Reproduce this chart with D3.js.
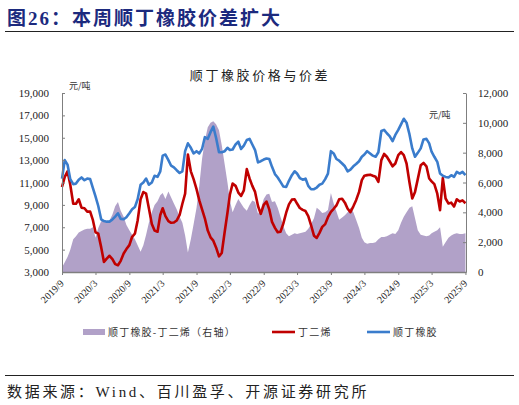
<!DOCTYPE html>
<html>
<head>
<meta charset="utf-8">
<script src="https://cdn.jsdelivr.net/npm/d3@7"></script>
<style>
  body { margin: 0; background: #fff; }
  svg { display: block; }
</style>
</head>
<body>
<svg id="chart" width="519" height="405"></svg>
<script>
// semi-monthly observation dates
let dates = [
  "2019-09-01","2019-09-16","2019-10-01","2019-10-16","2019-11-01","2019-11-16","2019-12-01","2019-12-16",
  "2020-01-01","2020-01-16","2020-02-01","2020-02-16","2020-03-01","2020-03-16","2020-04-01","2020-04-16","2020-05-01","2020-05-16","2020-06-01","2020-06-16","2020-07-01","2020-07-16","2020-08-01","2020-08-16","2020-09-01","2020-09-16","2020-10-01","2020-10-16","2020-11-01","2020-11-16","2020-12-01","2020-12-16",
  "2021-01-01","2021-01-16","2021-02-01","2021-02-16","2021-03-01","2021-03-16","2021-04-01","2021-04-16","2021-05-01","2021-05-16","2021-06-01","2021-06-16","2021-07-01","2021-07-16","2021-08-01","2021-08-16","2021-09-01","2021-09-16","2021-10-01","2021-10-16","2021-11-01","2021-11-16","2021-12-01","2021-12-16",
  "2022-01-01","2022-01-16","2022-02-01","2022-02-16","2022-03-01","2022-03-16","2022-04-01","2022-04-16","2022-05-01","2022-05-16","2022-06-01","2022-06-16","2022-07-01","2022-07-16","2022-08-01","2022-08-16","2022-09-01","2022-09-16","2022-10-01","2022-10-16","2022-11-01","2022-11-16","2022-12-01","2022-12-16",
  "2023-01-01","2023-01-16","2023-02-01","2023-02-16","2023-03-01","2023-03-16","2023-04-01","2023-04-16","2023-05-01","2023-05-16","2023-06-01","2023-06-16","2023-07-01","2023-07-16","2023-08-01","2023-08-16","2023-09-01","2023-09-16","2023-10-01","2023-10-16","2023-11-01","2023-11-16","2023-12-01","2023-12-16",
  "2024-01-01","2024-01-16","2024-02-01","2024-02-16","2024-03-01","2024-03-16","2024-04-01","2024-04-16","2024-05-01","2024-05-16","2024-06-01","2024-06-16","2024-07-01","2024-07-16","2024-08-01","2024-08-16","2024-09-01","2024-09-16","2024-10-01","2024-10-16","2024-11-01","2024-11-16","2024-12-01","2024-12-16",
  "2025-01-01","2025-01-16","2025-02-01","2025-02-16","2025-03-01","2025-03-16","2025-04-01","2025-04-16","2025-05-01","2025-05-16","2025-06-01","2025-06-16","2025-07-01","2025-07-16","2025-08-01","2025-08-16","2025-09-01"
];

// 顺丁橡胶 price, yuan/ton (left axis)
let brPrice = [
  11350,13000,12600,11300,10850,10900,11250,11450,11200,11350,11300,10500,
  9750,8900,7700,7550,7500,7500,7700,7950,8250,7750,7720,7900,
  8250,8600,8800,9500,10800,11000,11350,10800,11000,11600,11500,12000,
  13400,13500,13000,12500,12350,12100,11850,12000,13800,14500,14100,13600,
  13800,13600,14000,15050,14900,15500,16000,15000,13700,13700,13800,14100,
  13900,13950,14400,14650,14000,14300,14800,14900,14400,13900,12800,12900,
  13050,13150,13100,12400,11750,11450,11050,10650,10600,11150,11650,12000,
  11800,11400,11250,11350,10700,10400,10400,10550,10800,10900,11300,11800,
  13800,13600,13100,12950,12700,12450,12000,12150,12450,12650,12900,13300,
  13500,13800,13600,13400,13300,13700,15600,15700,15400,15150,14700,15250,
  15700,16200,16700,16350,15300,14050,13300,13650,14050,14850,14900,14500,
  13750,13300,12850,11800,11600,11500,11450,11650,11500,11950,11800,11950,
  11650
];

// 丁二烯 price, yuan/ton (left axis)
let bdPrice = [
  10600,11500,12000,10800,9100,9100,9500,8750,8700,8400,8400,7630,
  6550,6430,5200,3900,4200,4450,4150,3700,3600,4000,4650,5050,
  5400,6150,6420,7600,9500,10150,10000,8700,7300,6700,6600,8100,
  8700,8000,7550,7400,7420,7600,8100,9100,10000,13500,12000,11300,
  10400,9400,8600,7800,6700,6100,5800,5200,4400,4700,6600,8300,
  9900,10900,10700,10100,9800,10300,12200,11360,10700,10160,8900,8200,
  9000,9300,8600,7480,6950,6550,6600,7300,8300,9050,9470,9500,
  9120,8720,8550,8450,8000,7200,6250,6050,6500,7030,7280,7900,
  8380,8650,8950,9500,9550,9200,8650,8350,8870,9420,10160,11210,
  11610,11660,11700,11600,11510,11060,13000,13550,13300,12900,12450,12700,
  13450,13720,13450,12700,11000,9570,10160,11300,12550,12750,12450,11360,
  11100,10850,10000,8520,11400,9570,9120,9200,8850,9500,9300,9400,
  9150
];

// 顺丁橡胶-丁二烯 spread, yuan/ton (right axis)
let spread = [
  300,650,1000,1500,2200,2400,2650,2750,2850,2900,2900,3000,
  2300,2950,3400,3450,3350,3450,3850,4400,4700,4100,3700,3150,
  2800,2500,2200,1800,1350,1800,2500,3300,4000,4500,4750,5150,
  5300,4900,5400,5000,4600,4200,3700,3300,2450,1300,2200,3200,
  4300,5800,7600,8800,9700,10000,10100,9900,9500,8500,7200,6000,
  4800,4000,4500,4900,4600,4300,4100,4500,4800,4700,3900,4200,
  4900,5200,5250,4700,4750,4300,3700,3100,2600,2400,2500,2600,
  2550,2600,2650,2700,2900,3200,3600,4300,4150,3950,4000,4150,
  5300,4600,4050,3500,3650,3800,4000,4300,4000,3500,2950,2300,
  2000,1900,1950,1950,2000,2200,2350,2350,2400,2500,2600,2550,
  2800,3300,3700,4000,4300,4400,3600,2800,2500,2450,2400,2450,
  2600,2700,2800,3000,1700,2000,2300,2450,2550,2600,2550,2550,
  2600
];

let leftTicks = [3000, 5000, 7000, 9000, 11000, 13000, 15000, 17000, 19000];
let rightTicks = [0, 2000, 4000, 6000, 8000, 10000, 12000];
let monthTicks = ["2019-09-01","2020-03-01","2020-09-01","2021-03-01","2021-09-01","2022-03-01","2022-09-01",
  "2023-03-01","2023-09-01","2024-03-01","2024-09-01","2025-03-01","2025-09-01"];

let parse = d3.timeParse("%Y-%m-%d");
let data = dates.map(function(d, i) {
  return { date: parse(d), br: brPrice[i], bd: bdPrice[i], sp: spread[i] };
});

let svg = d3.select("#chart");
let cjk = "'Noto Sans CJK SC', sans-serif";
let serif = "'Liberation Serif', 'Times New Roman', serif";

let plotL = 62, plotR = 466, plotT = 93, plotB = 272;

let x = d3.scaleTime()
    .domain([parse("2019-09-01"), parse("2025-09-04")])
    .range([plotL, plotR]);
let yL = d3.scaleLinear().domain([3000, 19000]).range([plotB, plotT]);
let yR = d3.scaleLinear().domain([0, 12000]).range([plotB, plotT]);

// heading
svg.append("text")
    .attr("x", 7).attr("y", 25)
    .attr("font-family", serif + ", " + cjk)
    .attr("font-size", 19).attr("font-weight", "bold")
    .attr("letter-spacing", 2)
    .attr("fill", "#1c2a7e")
    .text("图26：本周顺丁橡胶价差扩大");

svg.append("line")
    .attr("x1", 5).attr("x2", 514).attr("y1", 31.5).attr("y2", 31.5)
    .attr("stroke", "#222").attr("stroke-width", 1.2);

svg.append("text")
    .attr("x", 260).attr("y", 80)
    .attr("text-anchor", "middle")
    .attr("font-family", cjk).attr("font-size", 13)
    .attr("letter-spacing", 2.6)
    .attr("fill", "#222")
    .text("顺丁橡胶价格与价差");

svg.append("text")
    .attr("x", 69).attr("y", 89)
    .attr("font-family", cjk).attr("font-size", 9)
    .attr("fill", "#333")
    .text("元/吨");
svg.append("text")
    .attr("x", 429).attr("y", 118)
    .attr("font-family", cjk).attr("font-size", 9)
    .attr("fill", "#333")
    .text("元/吨");

// spread area on right axis
svg.append("path")
    .datum(data)
    .attr("fill", "#b1a1c8")
    .attr("d", d3.area()
      .x(function(d) { return x(d.date); })
      .y0(yR(0))
      .y1(function(d) { return yR(d.sp); }));

let line = function(key) {
  return d3.line()
    .x(function(d) { return x(d.date); })
    .y(function(d) { return yL(d[key]); });
};

svg.append("path")
    .datum(data)
    .attr("fill", "none")
    .attr("stroke", "#c00000")
    .attr("stroke-width", 2.6)
    .attr("stroke-linejoin", "round")
    .attr("d", line("bd"));

svg.append("path")
    .datum(data)
    .attr("fill", "none")
    .attr("stroke", "#3a7ccc")
    .attr("stroke-width", 2.6)
    .attr("stroke-linejoin", "round")
    .attr("d", line("br"));

// axes
let gL = svg.append("g")
    .attr("transform", "translate(" + plotL + ",0)")
    .call(d3.axisLeft(yL).tickValues(leftTicks).tickSizeInner(-3).tickSizeOuter(0)
      .tickPadding(13).tickFormat(d3.format(",")));

let gR = svg.append("g")
    .attr("transform", "translate(" + plotR + ",0)")
    .call(d3.axisRight(yR).tickValues(rightTicks).tickSizeInner(-3).tickSizeOuter(0)
      .tickPadding(12).tickFormat(d3.format(",")));

let gX = svg.append("g")
    .attr("transform", "translate(0," + plotB + ")")
    .call(d3.axisBottom(x).tickValues(monthTicks.map(parse)).tickSizeInner(3).tickSizeOuter(0)
      .tickFormat(d3.timeFormat("%Y/%-m")));

[gL, gR, gX].forEach(function(g) {
  g.select(".domain").attr("stroke", "#7f7f7f");
  g.selectAll(".tick line").attr("stroke", "#7f7f7f");
  g.selectAll("text")
    .attr("font-family", serif)
    .attr("font-size", 11)
    .attr("fill", "#222");
});
gX.select(".domain").attr("stroke-width", 1.5);

gX.selectAll(".tick text")
    .attr("font-size", 10)
    .attr("x", 0).attr("y", 0).attr("dy", 0)
    .attr("transform", "translate(2,12) rotate(-45)")
    .style("text-anchor", "end");

// legend
let legend = svg.append("g")
    .attr("font-family", cjk).attr("font-size", 10)
    .attr("fill", "#333").attr("letter-spacing", 1.2);

legend.append("rect")
    .attr("x", 83).attr("y", 329).attr("width", 22).attr("height", 6)
    .attr("fill", "#b1a1c8");
legend.append("text").attr("x", 108).attr("y", 336).text("顺丁橡胶-丁二烯（右轴）");

legend.append("line")
    .attr("x1", 272).attr("x2", 295).attr("y1", 332).attr("y2", 332)
    .attr("stroke", "#c00000").attr("stroke-width", 2.6);
legend.append("text").attr("x", 298).attr("y", 336).text("丁二烯");

legend.append("line")
    .attr("x1", 367).attr("x2", 390).attr("y1", 332).attr("y2", 332)
    .attr("stroke", "#3a7ccc").attr("stroke-width", 2.6);
legend.append("text").attr("x", 393).attr("y", 336).text("顺丁橡胶");

// source
svg.append("line")
    .attr("x1", 5).attr("x2", 514).attr("y1", 375.5).attr("y2", 375.5)
    .attr("stroke", "#222").attr("stroke-width", 1.2);

svg.append("text")
    .attr("x", 7).attr("y", 397)
    .attr("font-family", serif + ", " + cjk)
    .attr("font-size", 15).attr("letter-spacing", 2.7)
    .attr("fill", "#222")
    .text("数据来源：Wind、百川盈孚、开源证券研究所");
</script>
</body>
</html>
